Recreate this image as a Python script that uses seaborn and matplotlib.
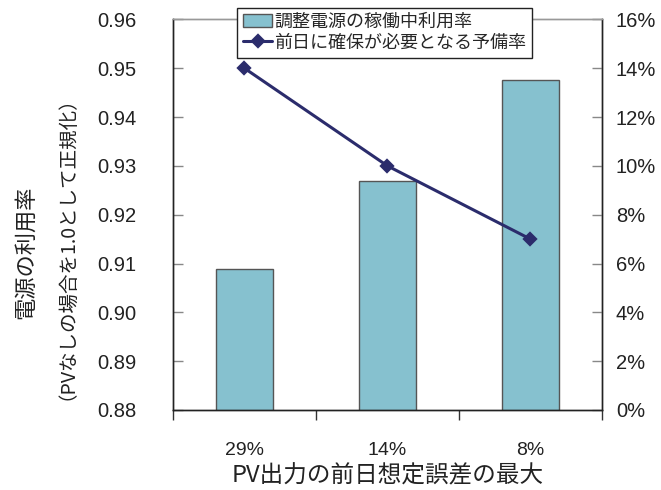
import matplotlib as mpl
mpl.use('Agg')
import matplotlib.pyplot as plt
import seaborn as sns
import pandas as pd

# values
categories = ['29%', '14%', '8%']
utilization = [0.9088, 0.9270, 0.9476]   # left axis (bars)
reserve = [14, 10, 7]                     # right axis, percent (line)
bar_label = '調整電源の稼働中利用率'
line_label = '前日に確保が必要となる予備率'

sns.set_theme(style='white')
plt.rcParams['font.family'] = ['Liberation Sans', 'Noto Sans CJK JP']

bar_color = '#86C1CF'
line_color = '#2B2C6C'
text_color = '#222222'

fig = plt.figure(figsize=(6.61, 4.9), dpi=100)
ax = fig.add_axes([0.2617, 0.1633, 0.649, 0.797])

df = pd.DataFrame({'cat': categories, 'util': utilization, 'res': reserve})

sns.barplot(data=df, x='cat', y='util', ax=ax, width=0.4, color=bar_color,
            saturation=1, edgecolor='#555555', linewidth=1, label=bar_label)
ax.set_ylim(0.88, 0.96)
ax.set_yticks([0.88 + 0.01 * i for i in range(9)])
ax.set_yticklabels(['{:.2f}'.format(0.88 + 0.01 * i) for i in range(9)])

ax2 = ax.twinx()
sns.pointplot(data=df, x='cat', y='res', ax=ax2, color=line_color, markers='D',
              markersize=6, linewidth=2.2, label=line_label)
ax2.set_ylim(0, 16)
ax2.set_yticks(range(0, 17, 2))
ax2.set_yticklabels(['{}%'.format(v) for v in range(0, 17, 2)])

# x axis: boundary ticks, labels at the category centres
ax.set_xlim(-0.5, 2.5)
ax.set_xticks([-0.5, 0.5, 1.5, 2.5])
ax.set_xticklabels([])
ax.set_xticks([0, 1, 2], minor=True)
ax.set_xticklabels(categories, minor=True)
ax.tick_params(axis='x', which='major', direction='out', length=7, width=1, color='#333333', bottom=True)
ax.tick_params(axis='x', which='minor', length=0, pad=23, labelsize=14, labelcolor=text_color)

ax.tick_params(axis='y', direction='in', length=7, width=1, color='#888888', left=True,
               pad=26, labelsize=14.5, labelcolor=text_color)
ax2.tick_params(axis='y', direction='in', length=7, width=1, color='#888888', right=True,
                pad=10, labelsize=14.5, labelcolor=text_color)

for a in (ax, ax2):
    for side in ('left', 'right', 'bottom'):
        a.spines[side].set_color(text_color)
        a.spines[side].set_linewidth(1)
    a.spines['top'].set_color('#999999')
    a.spines['top'].set_linewidth(1)

ax.set_xlabel('PV出力の前日想定誤差の最大', fontsize=17, color=text_color,
              family=['Noto Sans CJK JP'])
ax.xaxis.set_label_coords(0.5, -0.14)
ax.set_ylabel('')
ax2.set_ylabel('')
ax2.set_xlabel('')

# two-line y label, drawn as two rotated texts
fig.text(25 / 661, 1 - 252 / 490, '電源の利用率', rotation=90, ha='center', va='center',
         fontsize=16, color=text_color, family=['Noto Sans CJK JP'])
fig.text(57 / 661, 1 - 238 / 490, '（PVなしの場合を1.0として正規化）', rotation=90,
         ha='center', va='center', fontsize=14, color=text_color,
         family=['Noto Sans CJK JP'])

h1, l1 = ax.get_legend_handles_labels()
h2, l2 = ax2.get_legend_handles_labels()
for a in (ax, ax2):
    if a.get_legend() is not None:
        a.get_legend().remove()
leg = ax2.legend(h1 + h2, l1 + l2, loc='upper left', bbox_to_anchor=(0.149, 1.03),
                 fontsize=13, frameon=True, fancybox=False, framealpha=1,
                 edgecolor=text_color, borderpad=0.35, labelspacing=0.2,
                 handlelength=1.6, handletextpad=0.1, borderaxespad=0)
leg.get_frame().set_linewidth(1)

fig.savefig('out.png', dpi=100)
